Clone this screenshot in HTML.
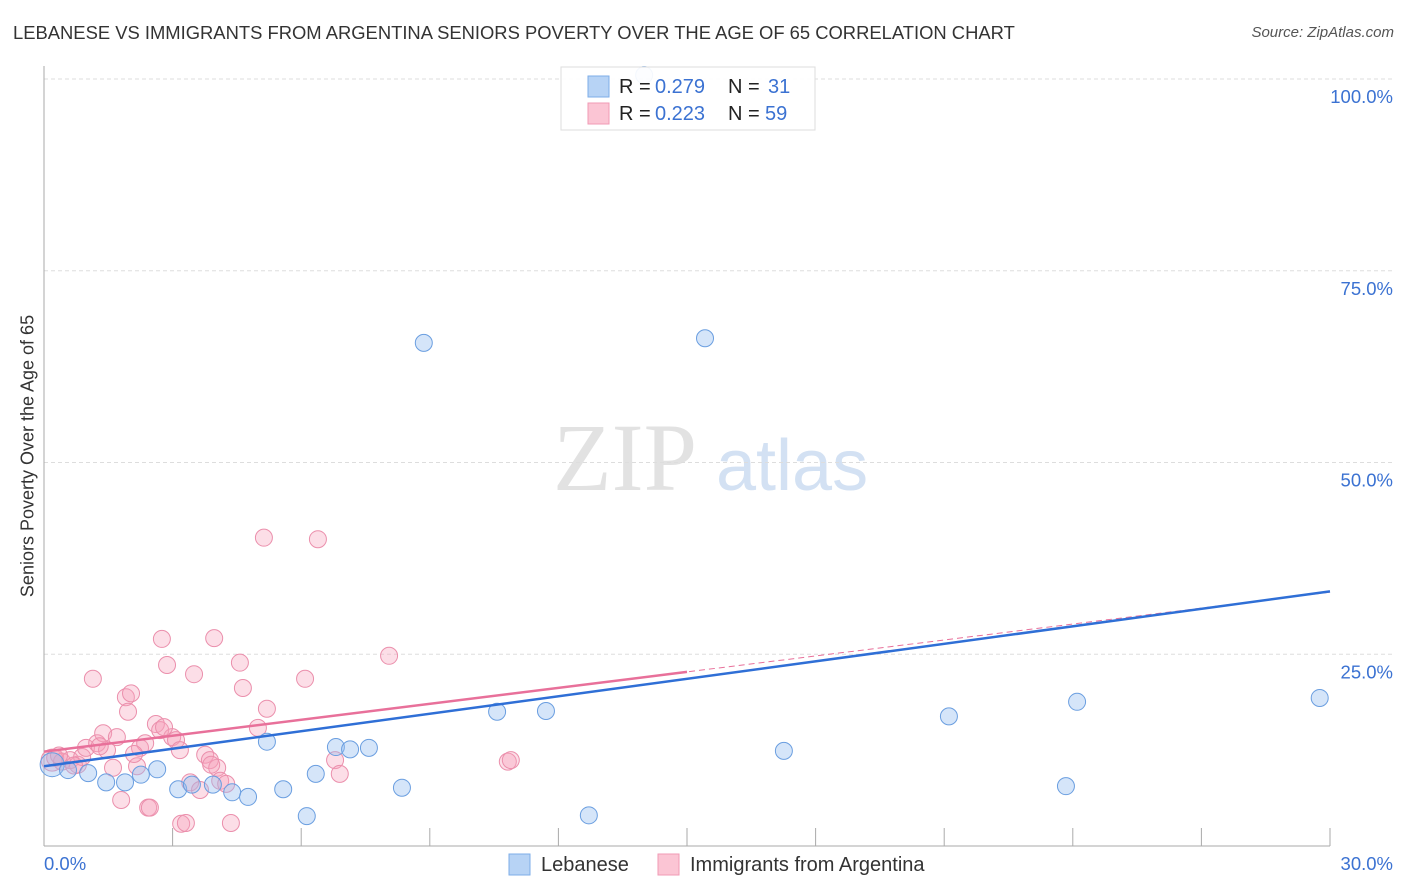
<!DOCTYPE html>
<html><head><meta charset="utf-8"><style>
body{margin:0;background:#fff;font-family:"Liberation Sans",sans-serif;}
#wrap{position:relative;width:1406px;height:892px;overflow:hidden;}
.t{position:absolute;white-space:nowrap;}
</style></head><body>
<div id="wrap">
<div class="t" style="left:13px;top:22px;font-size:18.4px;color:#333;">LEBANESE VS IMMIGRANTS FROM ARGENTINA SENIORS POVERTY OVER THE AGE OF 65 CORRELATION CHART</div>
<div class="t" style="right:12px;top:24px;font-size:15px;color:#555;font-style:italic;">Source: ZipAtlas.com</div>
<div class="t" style="left:28px;top:456px;font-size:18px;color:#333;transform:translate(-50%,-50%) rotate(-90deg);">Seniors Poverty Over the Age of 65</div>
<svg id="svg" width="1406" height="892" style="position:absolute;left:0;top:0;"></svg>
</div>
<script>
const xTickLabels=["0.0%","30.0%"];
const yTickValues=[25,50,75,100];
const yTickLabels=["25.0%","50.0%","75.0%","100.0%"];
const blueX=[0.19,0.56,1.03,1.45,1.89,2.26,2.64,3.13,3.45,3.94,4.39,4.76,5.2,5.58,6.13,6.34,6.81,7.14,7.58,8.35,8.86,10.57,11.71,12.71,15.42,17.26,21.11,23.84,24.1,29.76,14.0];
const blueY=[10.6,9.9,9.5,8.3,8.3,9.3,10.0,7.4,8.0,8.0,7.0,6.4,13.6,7.4,3.9,9.4,12.9,12.6,12.8,7.6,65.6,17.5,17.6,4.0,66.2,12.4,16.9,7.8,18.8,19.3,100.5];
const pinkX=[0.19,0.26,0.42,0.61,0.79,0.89,0.98,1.14,1.24,1.38,1.47,1.61,1.70,1.80,1.91,1.96,2.03,2.17,2.24,2.36,2.43,2.47,2.61,2.71,2.75,2.87,2.99,3.08,3.17,3.2,3.31,3.41,3.5,3.64,3.76,3.87,3.97,4.04,4.11,4.25,4.36,4.57,4.64,4.99,5.13,5.2,6.09,6.39,6.79,6.9,8.05,10.82,10.89,0.35,0.7,1.3,2.1,3.9,2.8];
const pinkY=[11.2,11.5,11.0,11.2,10.6,11.6,12.8,21.8,13.4,14.7,12.5,10.2,14.2,6.0,19.4,17.5,19.9,10.4,12.8,13.4,5.0,5.0,15.9,15.1,27.0,23.6,14.2,13.8,12.5,2.9,3.0,8.3,22.4,7.3,11.9,11.2,27.1,10.2,8.5,8.1,3.0,23.9,20.6,15.4,40.2,17.9,21.8,40.0,11.2,9.4,24.8,11.0,11.2,11.8,10.5,13.0,12.0,10.6,15.5];
const blueLine=[10.4,33.2];
const pinkLine=[12.3,33.1];
const pinkSolidEnd=15;

const X0=44,X1=1330,Y0=846,Y100=79;
const sx=v=>X0+(X1-X0)*v/30;
const sy=v=>Y0-(Y0-Y100)*v/100;
const svg=document.getElementById('svg');
const NS='http://www.w3.org/2000/svg';
function mk(tag,attrs,name){const e=document.createElementNS(NS,tag);for(const k in attrs)e.setAttribute(k,attrs[k]);


svg.appendChild(e);return e;}
let w=mk('text',{x:553,y:490,'font-size':96,'font-family':'Liberation Serif,serif',fill:'#e2e2e2'},'watermark-zip');w.textContent='ZIP';
w=mk('text',{x:716,y:490,'font-size':72,'font-family':'Liberation Sans,sans-serif',fill:'#d3e1f3'},'watermark-atlas');w.textContent='atlas';
yTickValues.forEach((v,i)=>{
 mk('line',{x1:X0,x2:1392,y1:sy(v),y2:sy(v),stroke:'#ddd','stroke-dasharray':'4,3'},'gridline');
 const t=mk('text',{x:1393,y:sy(v)+24,'text-anchor':'end','font-size':18.5,fill:'#3b72d2','font-family':'Liberation Sans,sans-serif'},'y-tick-label');t.textContent=yTickLabels[i];
});
mk('line',{x1:X0,x2:X0,y1:66,y2:Y0,stroke:'#aaa'},'y-axis');
mk('line',{x1:X0,x2:X1,y1:Y0,y2:Y0,stroke:'#aaa'},'x-axis');
for(let i=1;i<=10;i++){mk('line',{x1:sx(i*3),x2:sx(i*3),y1:Y0,y2:Y0-18,stroke:'#aaa'},'x-tick');}
let t=mk('text',{x:44,y:870,'font-size':18.5,fill:'#3b72d2','font-family':'Liberation Sans,sans-serif'},'x-tick-label');t.textContent=xTickLabels[0];
t=mk('text',{x:1393,y:870,'text-anchor':'end','font-size':18.5,fill:'#3b72d2','font-family':'Liberation Sans,sans-serif'},'x-tick-label');t.textContent=xTickLabels[1];
pinkX.forEach((x,i)=>{mk('circle',{cx:sx(x),cy:sy(pinkY[i]),r:i===0?11:8.5,fill:'rgba(246,160,186,0.35)',stroke:'#eb8fac','stroke-width':1},'pink-point');});
blueX.forEach((x,i)=>{mk('circle',{cx:sx(x),cy:sy(blueY[i]),r:i===0?12:8.5,fill:'rgba(150,190,240,0.4)',stroke:'#6a9ee0','stroke-width':1},'blue-point');});
mk('line',{x1:sx(0),y1:sy(pinkLine[0]),x2:sx(30),y2:sy(pinkLine[1]),stroke:'#e8709a','stroke-width':1,'stroke-dasharray':'6,4'},'pink-trend-dashed');
mk('line',{x1:sx(0),y1:sy(blueLine[0]),x2:sx(30),y2:sy(blueLine[1]),stroke:'#2f6fd6','stroke-width':2.5},'blue-trend-line');
mk('line',{x1:sx(0),y1:sy(pinkLine[0]),x2:sx(pinkSolidEnd),y2:sy(pinkLine[0]+(pinkLine[1]-pinkLine[0])*pinkSolidEnd/30),stroke:'#e8709a','stroke-width':2.5},'pink-trend-line');
mk('rect',{x:561,y:67,width:254,height:63,fill:'rgba(255,255,255,0.92)',stroke:'#ddd'},'legend-box');
mk('rect',{x:588,y:76,width:21,height:21,fill:'#b7d3f5',stroke:'#7eaee8'},'legend-swatch-blue');
mk('rect',{x:588,y:103,width:21,height:21,fill:'#fbc5d4',stroke:'#f09ab5'},'legend-swatch-pink');
function lt(x,y,s,c,n){const e=mk('text',{x:x,y:y,'font-size':20,fill:c,'font-family':'Liberation Sans,sans-serif'},n);e.textContent=s;}
lt(619,93,'R =','#222','legend-r-label');lt(655,93,'0.279','#3b72d2','legend-r-blue');lt(728,93,'N =','#222','legend-n-label');lt(768,93,'31','#3b72d2','legend-n-blue');
lt(619,120,'R =','#222','legend-r-label');lt(655,120,'0.223','#3b72d2','legend-r-pink');lt(728,120,'N =','#222','legend-n-label');lt(765,120,'59','#3b72d2','legend-n-pink');
mk('rect',{x:509,y:854,width:21,height:21,fill:'#b7d3f5',stroke:'#7eaee8'},'bottom-legend-swatch-lebanese');
lt(541,871,'Lebanese','#333','bottom-legend-lebanese');
mk('rect',{x:658,y:854,width:21,height:21,fill:'#fbc5d4',stroke:'#f09ab5'},'bottom-legend-swatch-argentina');
lt(690,871,'Immigrants from Argentina','#333','bottom-legend-argentina');
</script>
</body></html>
